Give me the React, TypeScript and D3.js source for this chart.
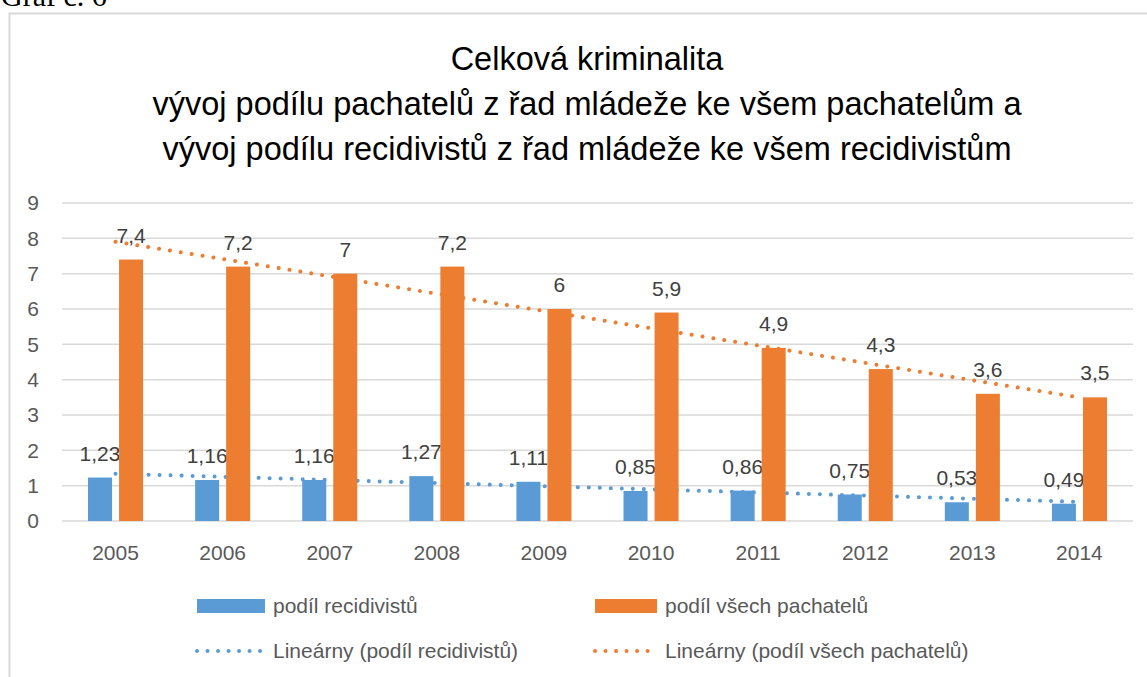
import React, { useEffect, useRef } from "react";
import * as d3 from "d3";

// data
const years = ["2005", "2006", "2007", "2008", "2009", "2010", "2011", "2012", "2013", "2014"];
const recidivists = [1.23, 1.16, 1.16, 1.27, 1.11, 0.85, 0.86, 0.75, 0.53, 0.49];
const allOffenders = [7.4, 7.2, 7, 7.2, 6, 5.9, 4.9, 4.3, 3.6, 3.5];
const yTicks = [0, 1, 2, 3, 4, 5, 6, 7, 8, 9];
const seriesNames = ["podíl recidivistů", "podíl všech pachatelů"];
const trendNames = ["Lineárny (podíl recidivistů)", "Lineárny (podíl všech pachatelů)"];
const titleLines = [
  "Celková kriminalita",
  "vývoj podílu pachatelů z řad mládeže ke všem pachatelům a",
  "vývoj podílu recidivistů z řad mládeže ke všem recidivistům",
];

const WIDTH = 1147;
const HEIGHT = 677;

// least squares fit over the category index (like Excel's linear trendline)
const linearFit = (values: number[]) => {
  const xs = values.map((_, i) => i + 1);
  const mx = d3.mean(xs)!;
  const my = d3.mean(values)!;
  const sxy = d3.sum(xs, (x, i) => (x - mx) * (values[i] - my));
  const sxx = d3.sum(xs, (x) => (x - mx) * (x - mx));
  const slope = sxy / sxx;
  return values.map((_, i) => my + slope * (i + 1 - mx));
};

const App = () => {
  const svgRef = useRef<SVGSVGElement | null>(null);

  useEffect(() => {
    const svg = d3.select(svgRef.current);
    svg.selectAll("*").remove();

    const blue = "#5B9BD5";
    const orange = "#ED7D31";
    const gridColor = "#D9D9D9";
    const axisText = "#595959";
    const labelText = "#404040";
    const font = "'Liberation Sans', Arial, sans-serif";
    const textSize = 21;

    const margin = { left: 62, right: 1133, top: 203, bottom: 521 };

    // "Graf č. 6" caption, cut off at the top of the page as in the source
    svg
      .append("text")
      .attr("x", 1)
      .attr("y", 6)
      .attr("font-family", "'Liberation Serif', 'Times New Roman', serif")
      .attr("font-size", 30)
      .attr("fill", "#000")
      .text("Graf č. 6");

    // chart area border (runs off the right and bottom edge)
    svg
      .append("rect")
      .attr("x", 9.5)
      .attr("y", 13.5)
      .attr("width", 1160)
      .attr("height", 700)
      .attr("fill", "white")
      .attr("stroke", gridColor)
      .attr("stroke-width", 2);

    // title
    svg
      .append("g")
      .selectAll("text")
      .data(titleLines)
      .join("text")
      .attr("x", 587)
      .attr("y", (d, i) => 70 + i * 45)
      .attr("text-anchor", "middle")
      .attr("font-family", font)
      .attr("font-size", 32.5)
      .attr("fill", "#000")
      .text((d) => d);

    const x = d3.scaleBand().domain(years).range([margin.left, margin.right]);
    const y = d3.scaleLinear().domain([0, 9]).range([margin.bottom, margin.top]);

    const groupWidth = x.bandwidth() * 0.514;
    const inner = d3
      .scaleBand()
      .domain(["r", "v"])
      .range([-groupWidth / 2, groupWidth / 2])
      .paddingInner(0.226);

    // gridlines
    svg
      .append("g")
      .selectAll("line")
      .data(yTicks)
      .join("line")
      .attr("x1", margin.left)
      .attr("x2", margin.right)
      .attr("y1", (d) => y(d))
      .attr("y2", (d) => y(d))
      .attr("stroke", gridColor)
      .attr("stroke-width", 1.5);

    // y tick labels
    svg
      .append("g")
      .selectAll("text")
      .data(yTicks)
      .join("text")
      .attr("x", 39)
      .attr("y", (d) => y(d))
      .attr("dy", "0.35em")
      .attr("text-anchor", "end")
      .attr("font-family", font)
      .attr("font-size", textSize)
      .attr("fill", axisText)
      .text((d) => d);

    // x labels
    svg
      .append("g")
      .selectAll("text")
      .data(years)
      .join("text")
      .attr("x", (d) => x(d)! + x.bandwidth() / 2)
      .attr("y", 560)
      .attr("text-anchor", "middle")
      .attr("font-family", font)
      .attr("font-size", textSize)
      .attr("fill", axisText)
      .text((d) => d);

    const center = (i: number) => x(years[i])! + x.bandwidth() / 2;

    // trend lines (drawn under the bars)
    const trendLine = d3
      .line<number>()
      .x((d, i) => center(i))
      .y((d) => y(d));

    [
      { values: recidivists, color: blue },
      { values: allOffenders, color: orange },
    ].forEach((s) => {
      svg
        .append("path")
        .attr("d", trendLine(linearFit(s.values)))
        .attr("fill", "none")
        .attr("stroke", s.color)
        .attr("stroke-width", 4)
        .attr("stroke-linecap", "round")
        .attr("stroke-dasharray", "0.01 11");
    });

    const fmt = (v: number) => String(v).replace(".", ",");

    // bars + value labels
    [
      { key: "r", values: recidivists, color: blue },
      { key: "v", values: allOffenders, color: orange },
    ].forEach((s) => {
      const g = svg.append("g");
      g.selectAll("rect")
        .data(s.values)
        .join("rect")
        .attr("x", (d, i) => center(i) + inner(s.key)!)
        .attr("y", (d) => y(d))
        .attr("width", inner.bandwidth())
        .attr("height", (d) => y(0) - y(d))
        .attr("fill", s.color);

      g.selectAll("text")
        .data(s.values)
        .join("text")
        .attr("x", (d, i) => center(i) + inner(s.key)! + inner.bandwidth() / 2)
        .attr("y", (d) => y(d) - 17)
        .attr("text-anchor", "middle")
        .attr("font-family", font)
        .attr("font-size", textSize)
        .attr("fill", labelText)
        .text((d) => fmt(d));
    });

    // legend
    const legend = svg
      .append("g")
      .attr("font-family", font)
      .attr("font-size", textSize)
      .attr("fill", axisText);
    const cols = [
      { swatch: 197, text: 273, color: blue },
      { swatch: 595, text: 665, color: orange },
    ];
    cols.forEach((c, i) => {
      legend
        .append("rect")
        .attr("x", c.swatch)
        .attr("y", 599)
        .attr("width", c.text - c.swatch - 8)
        .attr("height", 14)
        .attr("fill", c.color);
      legend
        .append("text")
        .attr("x", c.text)
        .attr("y", 606)
        .attr("dy", "0.35em")
        .text(seriesNames[i]);

      legend
        .append("line")
        .attr("x1", c.swatch)
        .attr("x2", c.text - 12)
        .attr("y1", 651)
        .attr("y2", 651)
        .attr("stroke", c.color)
        .attr("stroke-width", 4)
        .attr("stroke-linecap", "round")
        .attr("stroke-dasharray", "0.01 10.5");
      legend
        .append("text")
        .attr("x", c.text)
        .attr("y", 651)
        .attr("dy", "0.35em")
        .text(trendNames[i]);
    });
  }, []);

  return (
    <svg
      ref={svgRef}
      width={WIDTH}
      height={HEIGHT}
      style={{ position: "absolute", left: 0, top: 0, background: "white" }}
    ></svg>
  );
};

export default App;
